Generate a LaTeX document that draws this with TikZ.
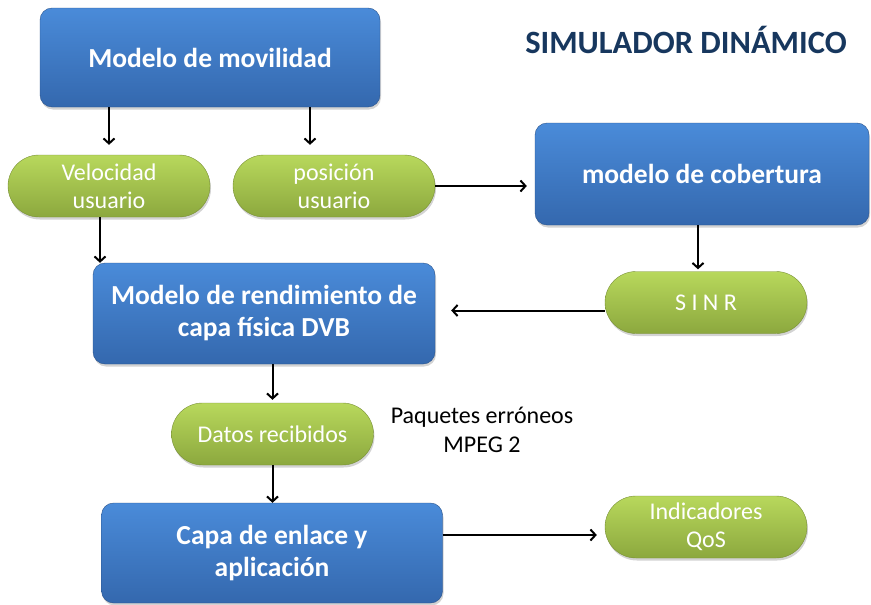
\documentclass[tikz,border=0pt]{standalone}
\usepackage{fontspec}
\setmainfont{Carlito}
\usetikzlibrary{positioning, arrows.meta, shadows}
\definecolor{boxtop}{RGB}{74, 139, 217}
\definecolor{boxbot}{RGB}{52, 104, 174}
\definecolor{pilltop}{RGB}{184, 216, 92}
\definecolor{pillbot}{RGB}{140, 168, 62}
\definecolor{titlenavy}{RGB}{23, 55, 94}

\tikzset{
    modelbox/.style={rounded corners=12pt, top color=boxtop, bottom color=boxbot,
        draw=boxbot!80!black, line width=0.4pt, text=white,
        font=\fontsize{27.5}{32}\selectfont\bfseries, align=center,
        drop shadow={opacity=0.35, shadow xshift=1pt, shadow yshift=-2.5pt}},
    pill/.style={rounded corners=31pt, top color=pilltop, bottom color=pillbot,
        draw=pillbot!85!black, line width=0.4pt, text=white,
        minimum width=202pt, minimum height=62pt, inner sep=0pt,
        font=\fontsize{24}{28}\selectfont, align=center,
        drop shadow={opacity=0.35, shadow xshift=1pt, shadow yshift=-2.5pt}},
    flow/.style={-{Straight Barb[length=5pt, width=11pt]}, line width=2pt}
}

\begin{document}
\begin{tikzpicture}[x=1pt, y=-1pt]
    \useasboundingbox (0, 0) rectangle (871, 605);

    \node[font=\fontsize{32.5}{36}\selectfont\bfseries, text=titlenavy]
        (title) at (686, 40) {SIMULADOR DINÁMICO};

    % blue models
    \node[modelbox, minimum width=340pt, minimum height=99pt]
        (movil) at (210, 57.5) {Modelo de movilidad};
    \node[modelbox, minimum width=334pt, minimum height=102pt]
        (cober) at (702, 174) {modelo de cobertura};
    \node[modelbox, minimum width=342pt, minimum height=101pt]
        (rendim) at (264, 313.5) {Modelo de rendimiento de\\capa física DVB};
    \node[modelbox, minimum width=341pt, minimum height=100pt]
        (enlace) at (272, 553) {Capa de enlace y\\aplicación};

    % green outputs
    \node[pill] (veloc) at (109, 186) {Velocidad\\usuario};
    \node[pill] (posic) at (334, 186) {posición\\usuario};
    \node[pill] (sinr) at (706, 302.5) {S I N R};
    \node[pill] (datos) at (272.5, 434) {Datos recibidos};
    \node[pill] (indic) at (706, 527) {Indicadores\\QoS};

    \node[font=\fontsize{24}{29}\selectfont, align=center]
        (paquetes) at (482, 430) {Paquetes erróneos\\MPEG 2};

    % connectors
    \draw[flow, shorten >=10pt] (movil.south -| veloc.north) -- (veloc.north);
    \draw[flow, shorten >=10pt] ([xshift=-24pt]posic.north |- movil.south)
        -- ([xshift=-24pt]posic.north);
    \draw[flow, shorten >=8pt] (posic.east) -- (posic.east -| cober.west);
    \draw[flow, shorten >=2pt] ([xshift=-4pt]cober.south) -- ([xshift=-4pt]cober.south |- sinr.north);
    \draw[flow, shorten >=16pt] ([yshift=-8pt]sinr.west) -- ([yshift=-8pt]sinr.west -| rendim.east);
    \draw[flow] ([xshift=-9pt]veloc.south) -- ([xshift=-9pt]veloc.south |- rendim.north);
    \draw[flow, shorten >=3pt] (rendim.south -| datos.north) -- (datos.north);
    \draw[flow] (datos.south) -- (datos.south |- enlace.north);
    \draw[flow, shorten >=8pt] ([yshift=18pt]enlace.east) -- ([yshift=18pt]enlace.east -| indic.west);
\end{tikzpicture}
\end{document}
